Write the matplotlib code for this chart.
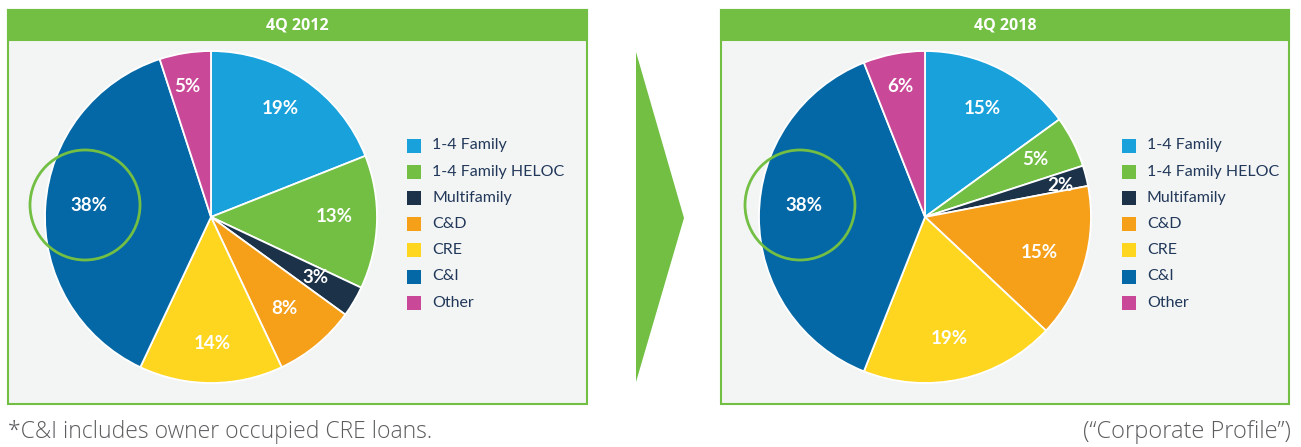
import numpy as np
import matplotlib.pyplot as plt
from matplotlib.patches import Rectangle, Circle, Polygon

categories = ['1-4 Family', '1-4 Family HELOC', 'Multifamily', 'C&D', 'CRE', 'C&I', 'Other']
share_2012 = [19, 13, 3, 8, 14, 38, 5]
share_2018 = [15, 5, 2, 15, 19, 38, 6]
panel_titles = ['4Q 2012', '4Q 2018']
colors = ['#19A1DB', '#72BF44', '#1B3249', '#F6A01A', '#FED51F', '#0468A6', '#C94897']

W, H = 1301, 447
GREEN = '#72BF44'
PANEL_BG = '#F3F5F4'
NAVY = '#22385A'
LEG_FONT = ['Lato', 'DejaVu Sans']
HEAD_FONT = ['Open Sans', 'DejaVu Sans']


def Y(y):
    # pixel rows from the top -> data coords
    return H - y


fig = plt.figure(figsize=(W / 100, H / 100), dpi=100)
ax = fig.add_axes([0, 0, 1, 1])

# label placement: (fraction of radius, angle tweak in degrees) per wedge
panels = [
    dict(x0=8, x1=587, cx=211, cy=217, vals=share_2012, legx=407, ring=(85, 205),
         lab=[(0.775, 1.8), (0.743, 1.9), (0.726, 0.6), (0.705, -0.8),
              (0.765, 0.6), (0.74, -2.0), (0.797, 1.1)]),
    dict(x0=721, x1=1289, cx=925, cy=217, vals=share_2018, legx=1122, ring=(800, 205),
         lab=[(0.739, -0.6), (0.753, 0.6), (0.836, -1.1), (0.72, -1.2),
              (0.749, -1.3), (0.734, -5.6), (0.80, 0.1)]),
]
R = 166

for p, title in zip(panels, panel_titles):
    # panel box + header
    ax.add_patch(Rectangle((p['x0'], Y(404)), p['x1'] - p['x0'], 404 - 10,
                           facecolor=PANEL_BG, edgecolor=GREEN, lw=1.5, zorder=1))
    ax.add_patch(Rectangle((p['x0'], Y(40)), p['x1'] - p['x0'], 30,
                           facecolor=GREEN, edgecolor=GREEN, lw=1.5, zorder=2))
    ax.text((p['x0'] + p['x1']) / 2, Y(25), title, color='white', fontsize=11.5,
            fontweight='bold', family=HEAD_FONT, ha='center', va='center', zorder=3)

    wedges, _ = ax.pie(p['vals'], colors=colors, startangle=90, counterclock=False,
                       center=(p['cx'], Y(p['cy'])), radius=R,
                       wedgeprops=dict(edgecolor='white', linewidth=1.3))
    for w in wedges:
        w.set_zorder(4)
    for w, v, (d, tweak) in zip(wedges, p['vals'], p['lab']):
        mid = np.deg2rad((w.theta1 + w.theta2) / 2 + tweak)
        ax.text(p['cx'] + d * R * np.cos(mid), Y(p['cy']) + d * R * np.sin(mid),
                f'{v}%', color='white', fontsize=13.5, fontweight='bold', family=LEG_FONT,
                ha='center', va='center', zorder=6)

    # highlight ring around C&I
    ax.add_patch(Circle((p['ring'][0], Y(p['ring'][1])), 55, fill=False,
                        edgecolor=GREEN, lw=2, zorder=5))

    # legend
    for i, (lab, col) in enumerate(zip(categories, colors)):
        yc = 145.5 + i * 26.2
        ax.add_patch(Rectangle((p['legx'], Y(yc + 7)), 14, 14, facecolor=col,
                               edgecolor='none', zorder=3))
        ax.text(p['legx'] + 25, Y(yc), lab, color=NAVY, fontsize=11.5, family=LEG_FONT,
                ha='left', va='center', zorder=3)

# arrow between panels
ax.add_patch(Polygon([(636, Y(52)), (684, Y(218)), (636, Y(382))], closed=True,
                     facecolor=GREEN, edgecolor='none', zorder=1))

ax.text(8, Y(438), '*C&I includes owner occupied CRE loans.', color='#5B5C5E',
        fontsize=16.5, family=HEAD_FONT, fontweight='light',
        ha='left', va='baseline')
ax.text(1291, Y(438), '(\u201cCorporate Profile\u201d)', color='#5B5C5E',
        fontsize=17, family=HEAD_FONT, fontweight='light',
        ha='right', va='baseline')

ax.set_xlim(0, W)
ax.set_ylim(0, H)
ax.set_aspect('auto')
ax.axis('off')

fig.savefig('out.png', dpi=100)
